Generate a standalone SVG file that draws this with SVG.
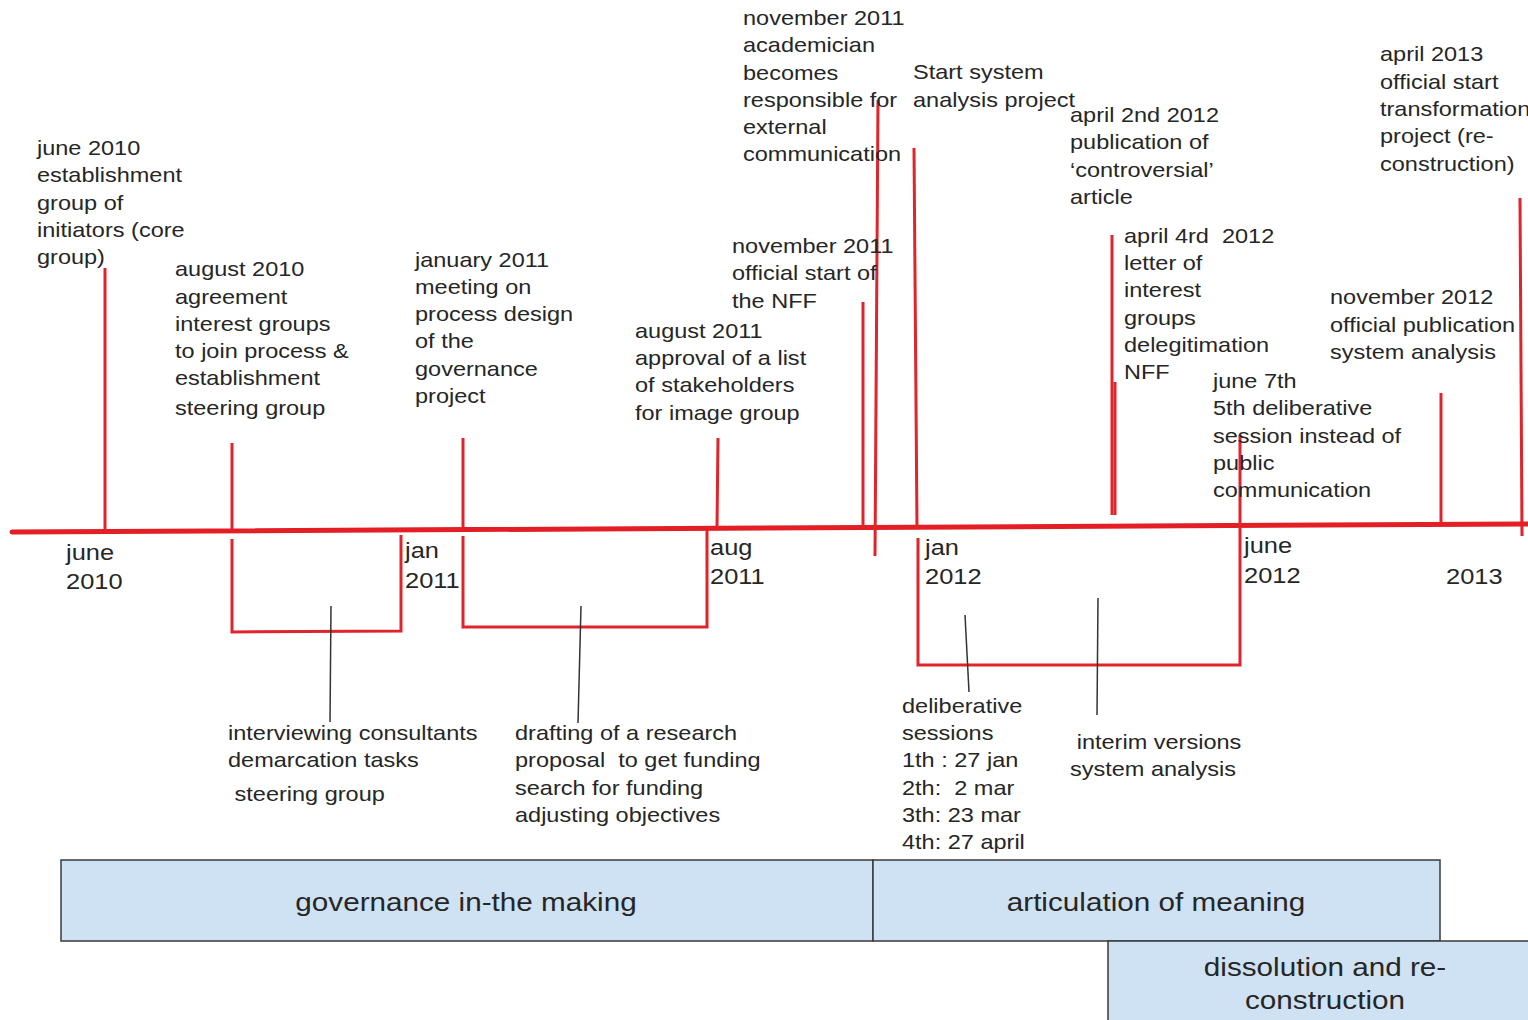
<svg xmlns="http://www.w3.org/2000/svg" width="1528" height="1020" viewBox="0 0 1528 1020">
  <style>
    .t { font-family: "Liberation Sans", Arial, sans-serif; font-size: 21px; fill: #262626; white-space: pre; }
    .d { font-family: "Liberation Sans", Arial, sans-serif; font-size: 22.7px; fill: #262626; }
    .band { font-family: "Liberation Sans", Arial, sans-serif; font-size: 26.5px; fill: #262626; text-anchor: middle; }
    .axis { stroke: #e31e24; stroke-width: 5; fill: none; stroke-linecap: round; }
    .tick { stroke: #e0242b; stroke-width: 3; fill: none; }
    .brk { stroke: #e0242b; stroke-width: 3; fill: none; }
    .lead { stroke: #333; stroke-width: 1.5; fill: none; }
    .box { fill: #cfe2f3; stroke: #3a3a3a; stroke-width: 1.5; }
  </style>
  <rect width="1528" height="1020" fill="#fff"/>

  <!-- phase bands -->
  <g id="phase-governance">
    <rect class="box" x="61" y="860" width="812" height="81"/>
    <text class="band" transform="translate(466,911) scale(1.12,1)">governance in-the making</text>
  </g>
  <g id="phase-articulation">
    <rect class="box" x="873" y="860" width="567" height="81"/>
    <text class="band" transform="translate(1156,911) scale(1.12,1)">articulation of meaning</text>
  </g>
  <g id="phase-dissolution">
    <rect class="box" x="1108" y="941" width="430" height="90"/>
    <text class="band" transform="translate(1325,976) scale(1.12,1)">dissolution and re-</text>
    <text class="band" transform="translate(1325,1009) scale(1.12,1)">construction</text>
  </g>

  <!-- axis, event ticks, period brackets and leaders -->
  <g id="connectors">
    <line class="axis" x1="12" y1="532" x2="1528" y2="524"/>

    <line class="tick" x1="105" y1="268" x2="105" y2="531"/>
    <line class="tick" x1="232" y1="443" x2="232" y2="530"/>
    <line class="tick" x1="463" y1="438" x2="463" y2="530"/>
    <line class="tick" x1="718" y1="438" x2="717" y2="528"/>
    <line class="tick" x1="863" y1="302" x2="863" y2="528"/>
    <line class="tick" x1="878" y1="100" x2="875" y2="556"/>
    <line class="tick" x1="914" y1="148" x2="917" y2="528"/>
    <line class="tick" x1="1112" y1="235" x2="1112" y2="515"/>
    <line class="tick" x1="1115" y1="382" x2="1115" y2="515" stroke-width="4"/>
    <line class="tick" x1="1240" y1="435" x2="1240" y2="526"/>
    <line class="tick" x1="1441" y1="393" x2="1441" y2="523"/>
    <line class="tick" x1="1520" y1="198" x2="1522" y2="536"/>

    <polyline class="brk" points="232,539 232,632 401,631 401,535"/>
    <polyline class="brk" points="463,536 463,627 707,627 707,530"/>
    <polyline class="brk" points="918,538 918,665 1240,665 1240,526"/>

    <line class="lead" x1="331" y1="606" x2="330" y2="722"/>
    <line class="lead" x1="581" y1="606" x2="578" y2="723"/>
    <line class="lead" x1="965" y1="615" x2="969" y2="692"/>
    <line class="lead" x1="1098" y1="598" x2="1097" y2="715"/>
  </g>

  <!-- axis dates -->
  <g id="date-june-2010" transform="translate(66,0) scale(1.12,1)">
    <text class="d" x="0" y="560">june</text><text class="d" x="0" y="589">2010</text>
  </g>
  <g id="date-jan-2011" transform="translate(405,0) scale(1.12,1)">
    <text class="d" x="0" y="558">jan</text><text class="d" x="0" y="588">2011</text>
  </g>
  <g id="date-aug-2011" transform="translate(710,0) scale(1.12,1)">
    <text class="d" x="0" y="555">aug</text><text class="d" x="0" y="584">2011</text>
  </g>
  <g id="date-jan-2012" transform="translate(925,0) scale(1.12,1)">
    <text class="d" x="0" y="555">jan</text><text class="d" x="0" y="584">2012</text>
  </g>
  <g id="date-june-2012" transform="translate(1244,0) scale(1.12,1)">
    <text class="d" x="0" y="553">june</text><text class="d" x="0" y="583">2012</text>
  </g>
  <g id="date-2013" transform="translate(1446,0) scale(1.12,1)">
    <text class="d" x="0" y="584">2013</text>
  </g>

  <!-- events above the axis -->
  <g id="ev-june-2010" transform="translate(37,0) scale(1.12,1)">
    <text class="t" x="0" y="155">june 2010</text>
    <text class="t" x="0" y="182">establishment</text>
    <text class="t" x="0" y="210">group of</text>
    <text class="t" x="0" y="237">initiators (core</text>
    <text class="t" x="0" y="264">group)</text>
  </g>
  <g id="ev-aug-2010" transform="translate(175,0) scale(1.12,1)">
    <text class="t" x="0" y="276">august 2010</text>
    <text class="t" x="0" y="304">agreement</text>
    <text class="t" x="0" y="331">interest groups</text>
    <text class="t" x="0" y="358">to join process &amp;</text>
    <text class="t" x="0" y="385">establishment</text>
    <text class="t" x="0" y="415">steering group</text>
  </g>
  <g id="ev-jan-2011" transform="translate(415,0) scale(1.12,1)">
    <text class="t" x="0" y="267">january 2011</text>
    <text class="t" x="0" y="294">meeting on</text>
    <text class="t" x="0" y="321">process design</text>
    <text class="t" x="0" y="348">of the</text>
    <text class="t" x="0" y="376">governance</text>
    <text class="t" x="0" y="403">project</text>
  </g>
  <g id="ev-aug-2011" transform="translate(635,0) scale(1.12,1)">
    <text class="t" x="0" y="338">august 2011</text>
    <text class="t" x="0" y="365">approval of a list</text>
    <text class="t" x="0" y="392">of stakeholders</text>
    <text class="t" x="0" y="420">for image group</text>
  </g>
  <g id="ev-nov-2011-nff" transform="translate(732,0) scale(1.12,1)">
    <text class="t" x="0" y="253">november 2011</text>
    <text class="t" x="0" y="280">official start of</text>
    <text class="t" x="0" y="308">the NFF</text>
  </g>
  <g id="ev-nov-2011-academician" transform="translate(743,0) scale(1.12,1)">
    <text class="t" x="0" y="25">november 2011</text>
    <text class="t" x="0" y="52">academician</text>
    <text class="t" x="0" y="80">becomes</text>
    <text class="t" x="0" y="107">responsible for</text>
    <text class="t" x="0" y="134">external</text>
    <text class="t" x="0" y="161">communication</text>
  </g>
  <g id="ev-system-analysis" transform="translate(913,0) scale(1.12,1)">
    <text class="t" x="0" y="79">Start system</text>
    <text class="t" x="0" y="107">analysis project</text>
  </g>
  <g id="ev-apr-2-2012" transform="translate(1070,0) scale(1.12,1)">
    <text class="t" x="0" y="122">april 2nd 2012</text>
    <text class="t" x="0" y="149">publication of</text>
    <text class="t" x="0" y="177">‘controversial’</text>
    <text class="t" x="0" y="204">article</text>
  </g>
  <g id="ev-apr-4-2012" transform="translate(1124,0) scale(1.12,1)">
    <text class="t" x="0" y="243">april 4rd  2012</text>
    <text class="t" x="0" y="270">letter of</text>
    <text class="t" x="0" y="297">interest</text>
    <text class="t" x="0" y="325">groups</text>
    <text class="t" x="0" y="352">delegitimation</text>
    <text class="t" x="0" y="379">NFF</text>
  </g>
  <g id="ev-june-7" transform="translate(1213,0) scale(1.12,1)">
    <text class="t" x="0" y="388">june 7th</text>
    <text class="t" x="0" y="415">5th deliberative</text>
    <text class="t" x="0" y="443">session instead of</text>
    <text class="t" x="0" y="470">public</text>
    <text class="t" x="0" y="497">communication</text>
  </g>
  <g id="ev-nov-2012" transform="translate(1330,0) scale(1.12,1)">
    <text class="t" x="0" y="304">november 2012</text>
    <text class="t" x="0" y="332">official publication</text>
    <text class="t" x="0" y="359">system analysis</text>
  </g>
  <g id="ev-apr-2013" transform="translate(1380,0) scale(1.12,1)">
    <text class="t" x="0" y="61">april 2013</text>
    <text class="t" x="0" y="89">official start</text>
    <text class="t" x="0" y="116">transformation</text>
    <text class="t" x="0" y="143">project (re-</text>
    <text class="t" x="0" y="171">construction)</text>
  </g>

  <!-- period notes below the axis -->
  <g id="note-consultants" transform="translate(228,0) scale(1.12,1)">
    <text class="t" x="0" y="740">interviewing consultants</text>
    <text class="t" x="0" y="767">demarcation tasks</text>
    <text class="t" x="0" y="801"> steering group</text>
  </g>
  <g id="note-research" transform="translate(515,0) scale(1.12,1)">
    <text class="t" x="0" y="740">drafting of a research</text>
    <text class="t" x="0" y="767">proposal  to get funding</text>
    <text class="t" x="0" y="795">search for funding</text>
    <text class="t" x="0" y="822">adjusting objectives</text>
  </g>
  <g id="note-sessions" transform="translate(902,0) scale(1.12,1)">
    <text class="t" x="0" y="713">deliberative</text>
    <text class="t" x="0" y="740">sessions</text>
    <text class="t" x="0" y="767">1th : 27 jan</text>
    <text class="t" x="0" y="795">2th:  2 mar</text>
    <text class="t" x="0" y="822">3th: 23 mar</text>
    <text class="t" x="0" y="849">4th: 27 april</text>
  </g>
  <g id="note-interim" transform="translate(1070,0) scale(1.12,1)">
    <text class="t" x="6" y="749">interim versions</text>
    <text class="t" x="0" y="776">system analysis</text>
  </g>
</svg>
